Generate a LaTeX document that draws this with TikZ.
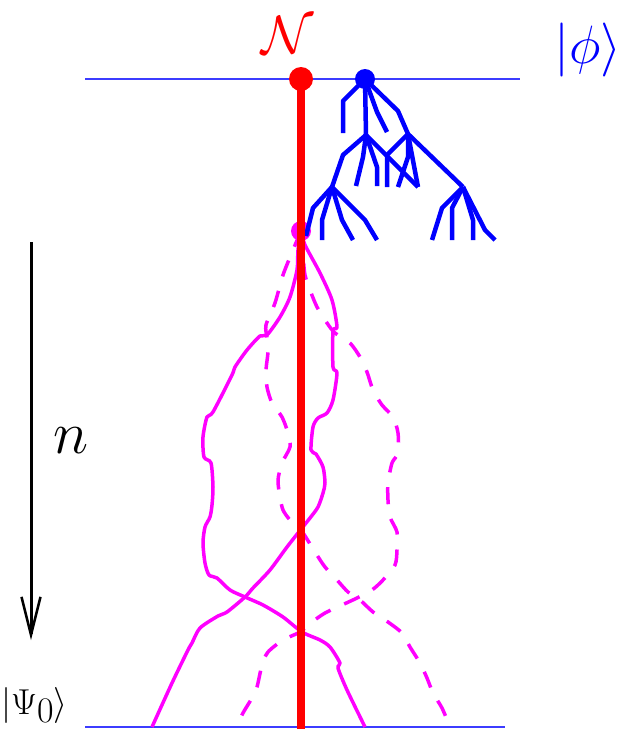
\RequirePackage{fix-cm}
\documentclass[tikz,border=0pt]{standalone}
\usetikzlibrary{arrows.meta}
\definecolor{walkpink}{RGB}{255,0,255}
\definecolor{rungblue}{RGB}{60,60,255}

\begin{document}
\begin{tikzpicture}[
    x=1pt, y=-1pt,
    rung/.style   = {rungblue, line width=1.2pt},
    trunk/.style  = {red, line width=7.5pt},
    twig/.style   = {blue, line width=4.5pt, line join=round},
    walk/.style   = {walkpink, line width=3.5pt, line join=round},
    dwalk/.style  = {walk, dash pattern=on 17pt off 15pt},
    blob/.style   = {circle, inner sep=0pt, minimum size=#1},
    ar/.style     = {-{Straight Barb[length=38pt,width=19pt,line width=2.5pt]}, line width=3pt},
    lbl/.style    = {inner sep=0pt},
]
\useasboundingbox (0,0) rectangle (631,729);

% ---------------- levels ----------------
\coordinate (topL) at (85,79);
\coordinate (topR) at (520,79);
\coordinate (botL) at (85,727);
\coordinate (botR) at (505,727);
\draw[rung] (topL) -- (topR);
\draw[rung] (botL) -- (botR);

% ---------------- random walks from the source ----------------
\coordinate (src) at (301,231);
\draw[walk] plot[smooth, tension=0.45] coordinates {(src) (298,250) (297,270) (290,297) (280,317) (267,335)
    (260,336) (247,350) (235,367) (232,375) (213,412) (207,417) (203,437) (204,457) (211,463)
    (213,487) (212,505) (210,517) (205,527) (203,543) (205,563) (209,575) (217,578) (230,590)
    (245,597) (263,605) (283,617) (302,632) (320,640) (330,647) (340,663) (338,668) (347,690) (365,727)};
\draw[walk] plot[smooth, tension=0.45] coordinates {(src) (305,245) (320,273) (332,300) (337,327)
    (333,331) (333,367) (337,373) (333,400) (327,413) (318,418) (313,427) (311,450) (316,454)
    (323,467) (325,483) (323,493) (318,507) (310,518) (302,528) (287,547) (270,570) (253,588)
    (245,597) (227,612) (218,616) (200,628) (192,643) (188,650) (172,683) (152,727)};
\draw[dwalk] plot[smooth, tension=0.45] coordinates {(src) (293,250) (283,275) (275,303) (266,325)
    (267,338) (268,352) (266,370) (267,387) (272,403) (282,417) (288,433) (290,447) (282,463)
    (278,480) (280,497) (283,510) (290,520) (301,530) (315,552) (325,567) (337,580) (348,592)
    (360,600) (373,612) (388,622) (402,633) (410,647) (420,663) (427,678) (433,693) (442,708) (450,727)};
\draw[dwalk] plot[smooth, tension=0.45] coordinates {(src) (303,255) (305,275) (310,290) (317,307)
    (327,323) (335,333) (350,343) (360,357) (367,372) (373,390) (382,405) (393,417) (398,433)
    (398,453) (392,463) (388,483) (388,500) (390,517) (397,532) (397,550) (395,565) (383,580)
    (372,590) (357,598) (342,605) (325,613) (312,622) (300,632) (283,640) (268,652) (262,665)
    (257,687) (252,698) (243,713) (237,727)};
\node[blob=20pt, fill=walkpink] (srcdot) at (src) {};

% ---------------- branching tree ----------------
\coordinate (root) at (365,79);
\coordinate (ta) at (366,135);
\coordinate (tb) at (332,187);
\coordinate (tc) at (408,134);
\coordinate (td) at (463,187);

\draw[twig] (root) -- (343,101) -- (343,133);
\draw[twig] (root) -- (ta);
\draw[twig] (root) -- (377,112) -- (387,132);
\draw[twig] (root) -- (398,111) -- (tc);

\draw[twig] (ta) -- (343,155) -- (tb);
\draw[twig] (ta) -- (363,157) -- (356,186);
\draw[twig] (ta) -- (377,167) -- (377,186);
\draw[twig] (ta) -- (418,187);

\draw[twig] (tc) -- (387,155) -- (387,187);
\draw[twig] (tc) -- (408,157) -- (398,187);
\draw[twig] (tc) -- (418,187);
\draw[twig] (tc) -- (td);

\draw[twig] (tb) -- (313,208) -- (306,236);
\draw[twig] (tb) -- (322,220) -- (322,240);
\draw[twig] (tb) -- (342,220) -- (353,240);
\draw[twig] (tb) -- (365,220) -- (377,240);

\draw[twig] (td) -- (442,208) -- (432,240);
\draw[twig] (td) -- (452,208) -- (452,240);
\draw[twig] (td) -- (473,220) -- (473,240);
\draw[twig] (td) -- (485,230) -- (495,240);

\node[blob=20pt, fill=blue] (rootdot) at (root) {};

% ---------------- red line ----------------
\node[blob=24pt, fill=red] (nn) at (301,79) {};
\coordinate (foot) at (301,729);
\draw[trunk] (nn.center) -- (foot);

% ---------------- labels and time axis ----------------
\node[lbl, red, anchor=base, font=\fontsize{54}{58}\selectfont] (lblN) at (288,53) {$\mathcal{N}$};
\node[lbl, blue, anchor=base, font=\fontsize{54}{58}\selectfont] (lblphi) at (588,63) {$|\phi\rangle$};
\node[lbl, anchor=base west, font=\fontsize{36}{40}\selectfont] (lblpsi) at (1,714)
    {$|\Psi\raisebox{-8pt}{$0$}\rangle$};
\node[lbl, font=\fontsize{60}{64}\selectfont] (lbln) at (71,441) {$n$};

\coordinate (nTop) at (31,242);
\coordinate (nBot) at (31,640);
\draw[ar] (nTop) -- (nBot);

\end{tikzpicture}
\end{document}
